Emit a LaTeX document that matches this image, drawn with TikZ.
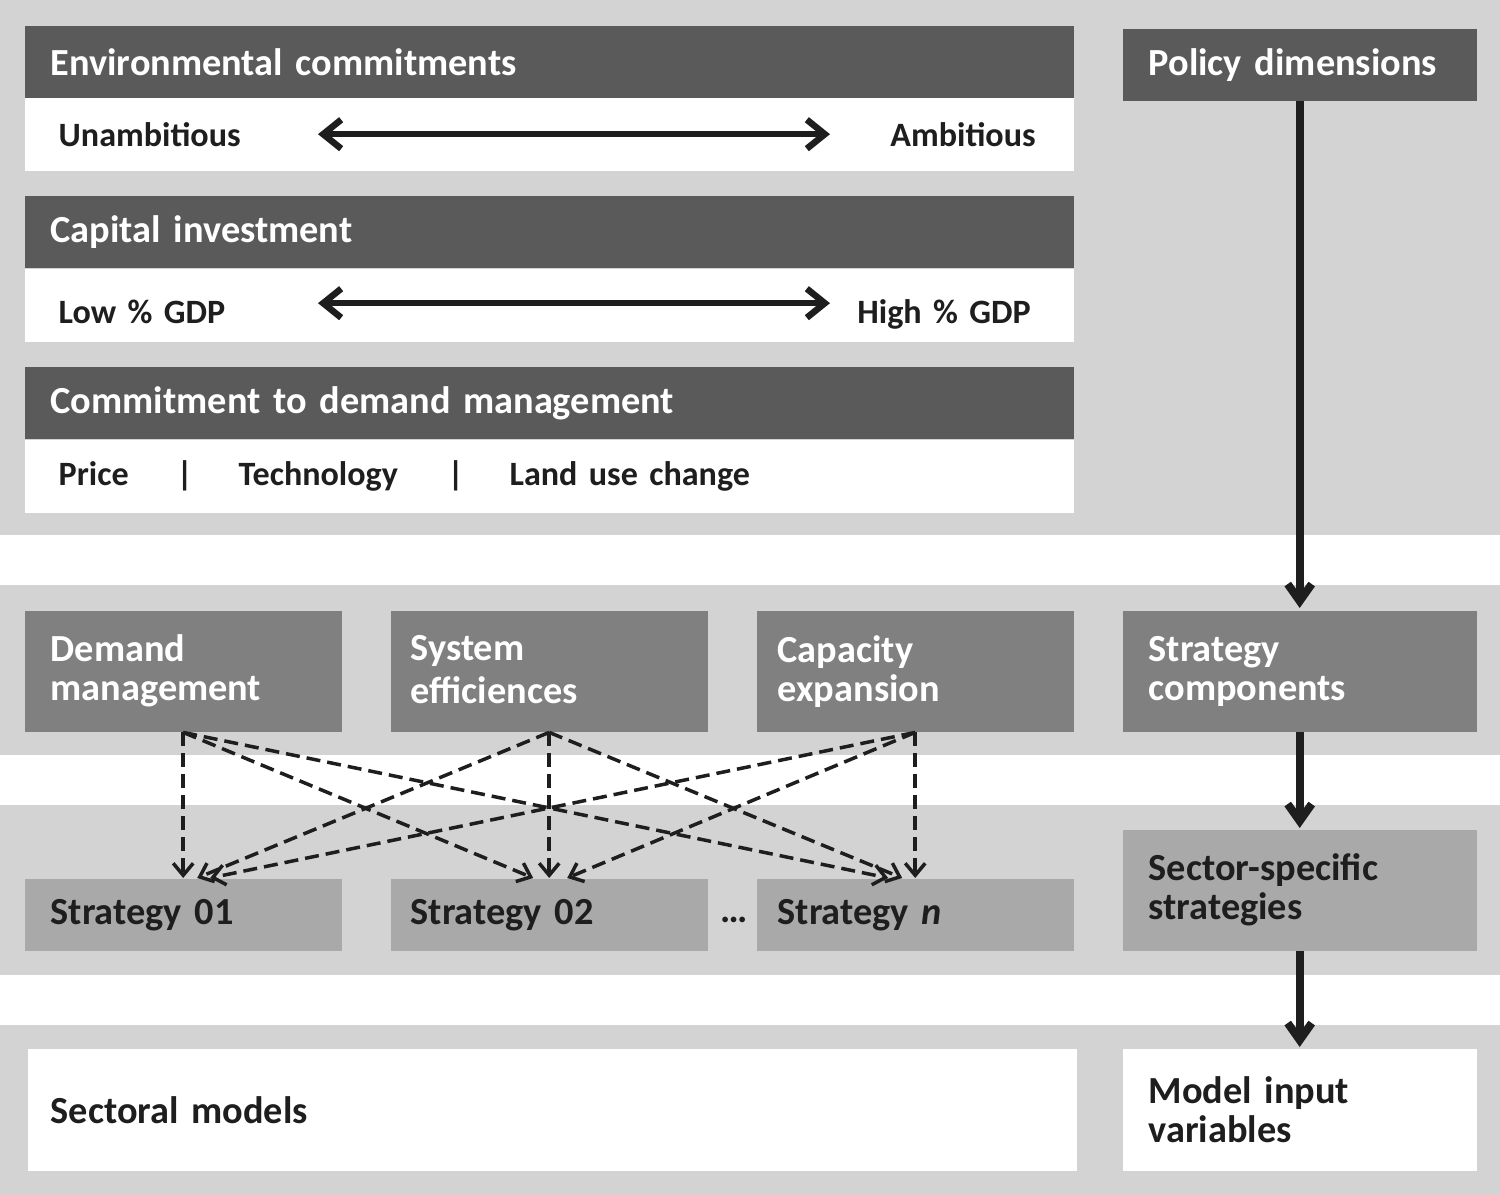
\documentclass[tikz,border=0pt]{standalone}
\usepackage{fontspec}
\setmainfont{Carlito}[WordSpace=0.8]
\usetikzlibrary{arrows.meta,positioning}
\definecolor{band}{HTML}{D3D3D3}
\definecolor{darkhead}{HTML}{5A5A5A}
\definecolor{midbox}{HTML}{808080}
\definecolor{lightbox}{HTML}{A9A9A9}
\definecolor{ink}{HTML}{1E1E1E}
\tikzset{
    % Define style for all boxes
    box/.style={
           rectangle,
           anchor=north west,
           inner xsep=2.6mm,
           inner ysep=0pt,
           align=left,
           font=\fontsize{10.9}{11.1}\selectfont\bfseries},
    headbox/.style={box, fill=darkhead, text=white, text width=99.7mm, minimum height=7.25mm},
    bodybox/.style={box, fill=white, text=ink, inner xsep=3.4mm, text width=98.1mm, minimum height=7.3mm,
           font=\fontsize{9.7}{11.1}\selectfont\bfseries},
    compbox/.style={box, fill=midbox, text=white, text width=26.5mm, minimum height=12.1mm},
    stratbox/.style={box, fill=lightbox, text=ink, text width=26.5mm, minimum height=7.2mm},
    sidebox/.style={box, text width=30.2mm, minimum height=12.1mm},
    % Define arrow styles
    flow/.style={
           -{Straight Barb[length=1.7mm,width=2.4mm]},
           line width=0.8mm,
           draw=ink},
    twoway/.style={
           {Straight Barb[length=1.8mm,width=2.9mm]}-{Straight Barb[length=1.8mm,width=2.9mm]},
           line width=0.65mm,
           draw=ink},
    link/.style={
           -{Straight Barb[length=1.2mm,width=2.0mm]},
           line width=0.35mm,
           dash pattern=on 1.4mm off 0.7mm,
           draw=ink}
}
\newcommand*{\band}[2]{\fill[band] (0,#1) rectangle (1500,#2);}
\newcommand*{\low}[1]{\raisebox{-0.9mm}[\height][\depth]{#1}}

\begin{document}
\begin{tikzpicture}[x=0.1mm,y=-0.1mm]
\useasboundingbox (0,0) rectangle (1500,1195);
% Grey bands behind each level
\band{0}{535}
\band{585}{755}
\band{805}{975}
\band{1025}{1195}

% Policy dimensions
\node[headbox] (envHead) at (24,25) {Environmental commitments};
\node[bodybox] (envBody) at (24,97) {Unambitious\hfill Ambitious\hspace*{0.4mm}};
\node[headbox] (capHead) at (24,195) {Capital investment};
\node[bodybox] (capBody) at (24,268) {\low{Low \% GDP}\hfill\low{High \% GDP}\hspace*{0.9mm}};
\node[headbox] (demHead) at (24,366) {Commitment to demand management};
\node[bodybox] (demBody) at (24,439) {\makebox[11.8mm][l]{Price}\makebox[6.2mm][l]{|}\makebox[20.9mm][l]{Technology}\makebox[6.2mm][l]{|}Land use change};

% Arrow ends inside the white rows
\coordinate (envL) at ([xshift=29.4mm]envBody.west);
\coordinate (envR) at ([xshift=80.6mm]envBody.west);
\coordinate (capL) at ([xshift=29.4mm,yshift=0.2mm]capBody.west);
\coordinate (capR) at ([xshift=80.6mm,yshift=0.2mm]capBody.west);
\draw[twoway] (envL) -- (envR);
\draw[twoway] (capL) -- (capR);

% Strategy components
\node[compbox] (demand) at (24,610) {Demand\\management};
\node[compbox, inner xsep=2.0mm, text width=27.7mm] (sysEff) at (390,610) {\raisebox{0.4mm}[\height][\depth]{System}\\efficiences};
\node[compbox, inner xsep=2.1mm, text width=27.5mm] (capExp) at (756,610) {Capacity\\expansion};

% Sector-specific strategies
\node[stratbox] (strat01) at (24,878) {Strategy 01};
\node[stratbox, inner xsep=2.0mm, text width=27.7mm] (strat02) at (390,878) {Strategy 02};
\node[stratbox, inner xsep=2.1mm, text width=27.5mm] (stratN) at (756,878) {Strategy \textit{n}};
\node[box, text=ink, inner xsep=0pt] (dots) at (720,916) {\dots};

% Sectoral models
\node[box, fill=white, text=ink, inner xsep=2.3mm, text width=100.3mm, minimum height=12.2mm] (sectModels) at (27,1048) {Sectoral models};

% Right column
\node[sidebox, fill=darkhead, text=white, minimum height=7.2mm] (policy) at (1122,28) {Policy dimensions};
\node[sidebox, fill=midbox, text=white] (stratComp) at (1122,610) {Strategy\\components};
\node[sidebox, fill=lightbox, text=ink] (sectorSpec) at (1122,829) {Sector-specific\\strategies};
\node[sidebox, fill=white, text=ink, minimum height=12.2mm] (modelInput) at (1122,1048) {Model input\\variables};

\draw[flow] (policy.south) -- ([yshift=0.2mm]stratComp.north);
\draw[flow] (stratComp.south) -- ([yshift=0.1mm]sectorSpec.north);
\draw[flow] (sectorSpec.south) -- ([yshift=0.1mm]modelInput.north);

% Every component feeds every strategy
\draw[link] (demand.south) -- (strat01.north);
\draw[link] (demand.south) -- ([xshift=-1.6mm]strat02.north);
\draw[link] (demand.south) -- ([xshift=-2.7mm]stratN.north);
\draw[link] (sysEff.south) -- ([xshift=1.4mm]strat01.north);
\draw[link] (sysEff.south) -- (strat02.north);
\draw[link] (sysEff.south) -- ([xshift=-1.3mm]stratN.north);
\draw[link] (capExp.south) -- ([xshift=2.7mm]strat01.north);
\draw[link] (capExp.south) -- ([xshift=1.8mm]strat02.north);
\draw[link] (capExp.south) -- (stratN.north);
\end{tikzpicture}
\end{document}
